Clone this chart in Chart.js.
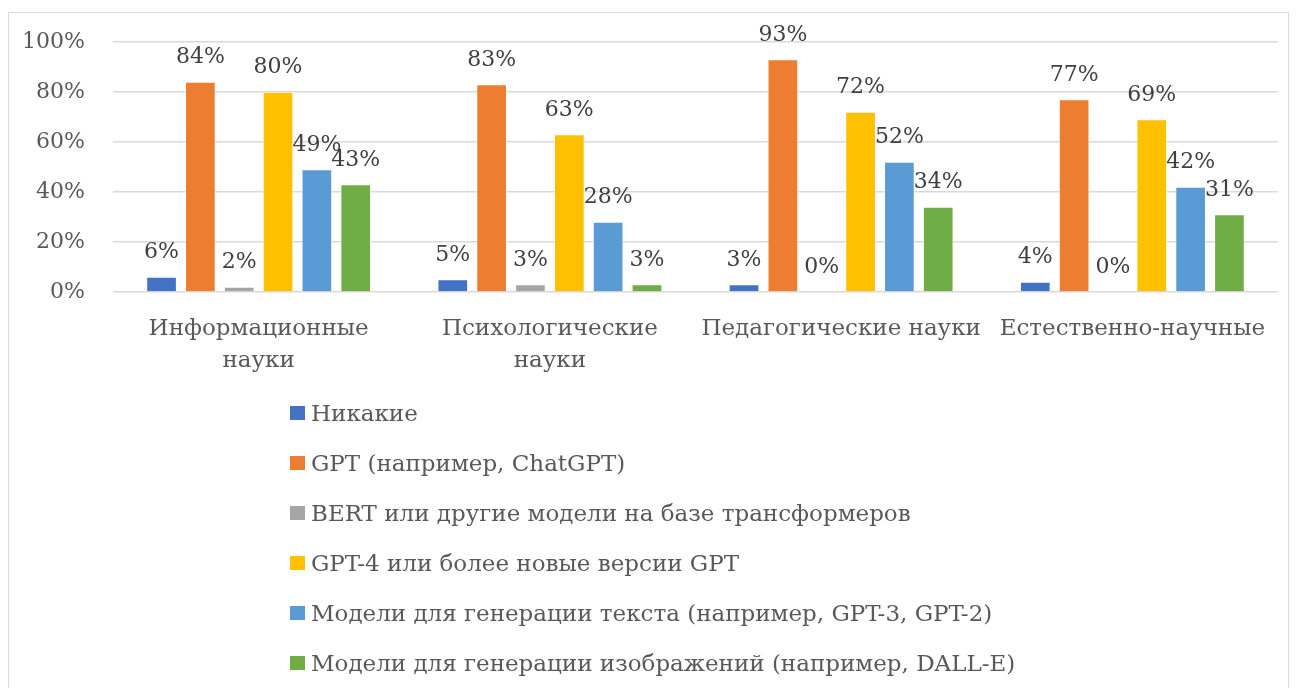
<!DOCTYPE html>
<html lang="ru">
<head>
<meta charset="utf-8">
<script src="https://cdn.jsdelivr.net/npm/chart.js@4.4.1/dist/chart.umd.min.js"></script>
<style>
    body { margin: 0; background: #fff; width: 1297px; height: 688px; overflow: hidden; font-family: "DejaVu Serif", serif; }
    #frame { position: absolute; left: 8px; top: 12px; width: 1281px; height: 700px; border: 1px solid #d9d9d9; box-sizing: border-box; }
    #chartBox { position: absolute; left: 8px; top: 12px; }
    #legend { position: absolute; left: 290px; top: 388px; margin: 0; padding: 0; list-style: none; }
    #legend li { height: 50px; display: flex; align-items: center; font-size: 23px; color: #595959; white-space: nowrap; }
    #legend span.box { display: inline-block; width: 15px; height: 14px; margin-right: 6px; }
</style>
</head>
<body>
<div id="frame"></div>
<div id="chartBox"><canvas id="chart" width="1282" height="380"></canvas></div>
<ul id="legend"></ul>
<script>
// категории и значения (в процентах)
const categories = [
    ["Информационные", "науки"],
    ["Психологические", "науки"],
    "Педагогические науки",
    "Естественно-научные"
];
const seriesNames = [
    "Никакие",
    "GPT (например, ChatGPT)",
    "BERT или другие модели на базе трансформеров",
    "GPT-4 или более новые версии GPT",
    "Модели для генерации текста (например, GPT-3, GPT-2)",
    "Модели для генерации изображений (например, DALL-E)"
];
const noneValues = [6, 5, 3, 4];
const gptValues = [84, 83, 93, 77];
const bertValues = [2, 3, 0, 0];
const gpt4Values = [80, 63, 72, 69];
const textModelValues = [49, 28, 52, 42];
const imageModelValues = [43, 3, 34, 31];
const yTicks = [0, 20, 40, 60, 80, 100];

const colors = ["#4472C4", "#ED7D31", "#A5A5A5", "#FFC000", "#5B9BD5", "#70AD47"];
const allValues = [noneValues, gptValues, bertValues, gpt4Values, textModelValues, imageModelValues];

Chart.defaults.font.family = "'DejaVu Serif', serif";
Chart.defaults.font.size = 22;
Chart.defaults.color = "#595959";

// подписи значений над столбцами
const valueLabels = {
    id: "valueLabels",
    afterDatasetsDraw(chart) {
        const ctx = chart.ctx;
        ctx.save();
        ctx.font = "22px 'DejaVu Serif', serif";
        ctx.fillStyle = "#404040";
        ctx.textAlign = "center";
        ctx.textBaseline = "alphabetic";
        chart.data.datasets.forEach((ds, i) => {
            chart.getDatasetMeta(i).data.forEach((bar, j) => {
                ctx.fillText(ds.data[j] + "%", bar.x, bar.y - 19);
            });
        });
        ctx.restore();
    }
};

const chart = new Chart(document.getElementById("chart"), {
    type: "bar",
    data: {
        labels: categories,
        datasets: seriesNames.map((name, i) => ({
            label: name,
            data: allValues[i],
            backgroundColor: colors[i],
            borderColor: "#ffffff",
            borderWidth: 0.8,
            barPercentage: 0.78,
            categoryPercentage: 0.8
        }))
    },
    options: {
        responsive: false,
        animation: false,
        layout: { padding: { top: 30, right: 12, left: 0, bottom: 0 } },
        plugins: {
            legend: { display: false },
            tooltip: { enabled: false }
        },
        scales: {
            x: {
                grid: { display: false },
                border: { display: false },
                ticks: { maxRotation: 0, autoSkip: false, padding: 14, color: "#595959", font: { size: 23, lineHeight: 1.35 } },
                afterFit: (scale) => { scale.height = 100; }
            },
            y: {
                min: 0,
                max: 100,
                afterBuildTicks: (scale) => { scale.ticks = yTicks.map(v => ({ value: v })); },
                grid: { color: "#d9d9d9", lineWidth: 1.5, drawTicks: false },
                border: { display: false },
                ticks: { padding: 28, callback: (v) => v + "%" },
                afterFit: (scale) => {
                    scale.width = 105;
                    scale.paddingTop = 12;
                    scale.paddingBottom = 12;
                }
            }
        }
    },
    plugins: [valueLabels]
});

// легенда столбиком
const legendEl = document.getElementById("legend");
chart.data.datasets.forEach((ds) => {
    const li = document.createElement("li");
    li.innerHTML = `<span class="box" style="background:${ds.backgroundColor}"></span>${ds.label}`;
    legendEl.appendChild(li);
});
</script>
</body>
</html>
